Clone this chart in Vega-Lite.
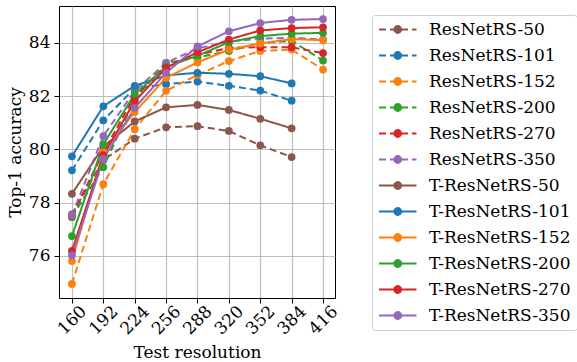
{
  "$schema": "https://vega.github.io/schema/vega-lite/v6.json",
  "autosize": "none",
  "width": 276,
  "height": 292,
  "padding": {"left": 59, "top": 6, "right": 242, "bottom": 64},
  "config": {
    "font": "DejaVu Serif",
    "view": {"stroke": "black", "strokeWidth": 1},
    "axis": {
      "labelFont": "DejaVu Serif", "labelFontSize": 17, "labelColor": "black",
      "titleFont": "DejaVu Serif", "titleFontSize": 17, "titleColor": "black", "titleFontWeight": "normal",
      "domain": false, "tickColor": "black", "tickSize": 5, "tickWidth": 1,
      "gridColor": "#b0b0b0", "gridWidth": 1.2, "gridOpacity": 0.8, "labelOverlap": false
    }
  },
  "data": {"values": [
    {"m": "ResNetRS-50", "r": 160, "a": 77.55}, {"m": "ResNetRS-50", "r": 192, "a": 79.6}, {"m": "ResNetRS-50", "r": 224, "a": 80.4}, {"m": "ResNetRS-50", "r": 256, "a": 80.83}, {"m": "ResNetRS-50", "r": 288, "a": 80.87}, {"m": "ResNetRS-50", "r": 320, "a": 80.69}, {"m": "ResNetRS-50", "r": 352, "a": 80.15}, {"m": "ResNetRS-50", "r": 384, "a": 79.71},
    {"m": "ResNetRS-101", "r": 160, "a": 79.21}, {"m": "ResNetRS-101", "r": 192, "a": 81.09}, {"m": "ResNetRS-101", "r": 224, "a": 82.3}, {"m": "ResNetRS-101", "r": 256, "a": 82.45}, {"m": "ResNetRS-101", "r": 288, "a": 82.55}, {"m": "ResNetRS-101", "r": 320, "a": 82.39}, {"m": "ResNetRS-101", "r": 352, "a": 82.21}, {"m": "ResNetRS-101", "r": 384, "a": 81.83},
    {"m": "ResNetRS-152", "r": 160, "a": 74.94}, {"m": "ResNetRS-152", "r": 192, "a": 78.69}, {"m": "ResNetRS-152", "r": 224, "a": 80.76}, {"m": "ResNetRS-152", "r": 256, "a": 82.2}, {"m": "ResNetRS-152", "r": 288, "a": 82.8}, {"m": "ResNetRS-152", "r": 320, "a": 83.32}, {"m": "ResNetRS-152", "r": 352, "a": 83.7}, {"m": "ResNetRS-152", "r": 384, "a": 83.75}, {"m": "ResNetRS-152", "r": 416, "a": 83.0},
    {"m": "ResNetRS-200", "r": 160, "a": 77.45}, {"m": "ResNetRS-200", "r": 192, "a": 79.33}, {"m": "ResNetRS-200", "r": 224, "a": 81.9}, {"m": "ResNetRS-200", "r": 256, "a": 83.25}, {"m": "ResNetRS-200", "r": 288, "a": 83.45}, {"m": "ResNetRS-200", "r": 320, "a": 83.7}, {"m": "ResNetRS-200", "r": 352, "a": 84.0}, {"m": "ResNetRS-200", "r": 384, "a": 84.08}, {"m": "ResNetRS-200", "r": 416, "a": 83.34},
    {"m": "ResNetRS-270", "r": 160, "a": 77.5}, {"m": "ResNetRS-270", "r": 192, "a": 79.9}, {"m": "ResNetRS-270", "r": 224, "a": 82.0}, {"m": "ResNetRS-270", "r": 256, "a": 83.15}, {"m": "ResNetRS-270", "r": 288, "a": 83.55}, {"m": "ResNetRS-270", "r": 320, "a": 83.82}, {"m": "ResNetRS-270", "r": 352, "a": 83.84}, {"m": "ResNetRS-270", "r": 384, "a": 83.84}, {"m": "ResNetRS-270", "r": 416, "a": 83.62},
    {"m": "ResNetRS-350", "r": 160, "a": 77.52}, {"m": "ResNetRS-350", "r": 192, "a": 80.5}, {"m": "ResNetRS-350", "r": 224, "a": 82.2}, {"m": "ResNetRS-350", "r": 256, "a": 83.25}, {"m": "ResNetRS-350", "r": 288, "a": 83.8}, {"m": "ResNetRS-350", "r": 320, "a": 84.05}, {"m": "ResNetRS-350", "r": 352, "a": 84.16}, {"m": "ResNetRS-350", "r": 384, "a": 84.2}, {"m": "ResNetRS-350", "r": 416, "a": 84.13},
    {"m": "T-ResNetRS-50", "r": 160, "a": 78.33}, {"m": "T-ResNetRS-50", "r": 192, "a": 80.1}, {"m": "T-ResNetRS-50", "r": 224, "a": 81.05}, {"m": "T-ResNetRS-50", "r": 256, "a": 81.58}, {"m": "T-ResNetRS-50", "r": 288, "a": 81.67}, {"m": "T-ResNetRS-50", "r": 320, "a": 81.48}, {"m": "T-ResNetRS-50", "r": 352, "a": 81.15}, {"m": "T-ResNetRS-50", "r": 384, "a": 80.79},
    {"m": "T-ResNetRS-101", "r": 160, "a": 79.74}, {"m": "T-ResNetRS-101", "r": 192, "a": 81.62}, {"m": "T-ResNetRS-101", "r": 224, "a": 82.39}, {"m": "T-ResNetRS-101", "r": 256, "a": 82.78}, {"m": "T-ResNetRS-101", "r": 288, "a": 82.88}, {"m": "T-ResNetRS-101", "r": 320, "a": 82.84}, {"m": "T-ResNetRS-101", "r": 352, "a": 82.75}, {"m": "T-ResNetRS-101", "r": 384, "a": 82.48},
    {"m": "T-ResNetRS-152", "r": 160, "a": 75.8}, {"m": "T-ResNetRS-152", "r": 192, "a": 79.9}, {"m": "T-ResNetRS-152", "r": 224, "a": 81.4}, {"m": "T-ResNetRS-152", "r": 256, "a": 82.69}, {"m": "T-ResNetRS-152", "r": 288, "a": 83.27}, {"m": "T-ResNetRS-152", "r": 320, "a": 83.75}, {"m": "T-ResNetRS-152", "r": 352, "a": 83.98}, {"m": "T-ResNetRS-152", "r": 384, "a": 84.15}, {"m": "T-ResNetRS-152", "r": 416, "a": 84.1},
    {"m": "T-ResNetRS-200", "r": 160, "a": 76.74}, {"m": "T-ResNetRS-200", "r": 192, "a": 80.19}, {"m": "T-ResNetRS-200", "r": 224, "a": 82.08}, {"m": "T-ResNetRS-200", "r": 256, "a": 83.1}, {"m": "T-ResNetRS-200", "r": 288, "a": 83.52}, {"m": "T-ResNetRS-200", "r": 320, "a": 84.03}, {"m": "T-ResNetRS-200", "r": 352, "a": 84.26}, {"m": "T-ResNetRS-200", "r": 384, "a": 84.35}, {"m": "T-ResNetRS-200", "r": 416, "a": 84.38},
    {"m": "T-ResNetRS-270", "r": 160, "a": 76.18}, {"m": "T-ResNetRS-270", "r": 192, "a": 79.78}, {"m": "T-ResNetRS-270", "r": 224, "a": 81.81}, {"m": "T-ResNetRS-270", "r": 256, "a": 83.06}, {"m": "T-ResNetRS-270", "r": 288, "a": 83.65}, {"m": "T-ResNetRS-270", "r": 320, "a": 84.13}, {"m": "T-ResNetRS-270", "r": 352, "a": 84.47}, {"m": "T-ResNetRS-270", "r": 384, "a": 84.56}, {"m": "T-ResNetRS-270", "r": 416, "a": 84.59},
    {"m": "T-ResNetRS-350", "r": 160, "a": 76.02}, {"m": "T-ResNetRS-350", "r": 192, "a": 79.64}, {"m": "T-ResNetRS-350", "r": 224, "a": 81.56}, {"m": "T-ResNetRS-350", "r": 256, "a": 82.88}, {"m": "T-ResNetRS-350", "r": 288, "a": 83.87}, {"m": "T-ResNetRS-350", "r": 320, "a": 84.44}, {"m": "T-ResNetRS-350", "r": 352, "a": 84.75}, {"m": "T-ResNetRS-350", "r": 384, "a": 84.87}, {"m": "T-ResNetRS-350", "r": 416, "a": 84.9}
  ]},
  "mark": {"type": "line", "strokeWidth": 2, "point": {"filled": true, "size": 60, "opacity": 1}},
  "encoding": {
    "x": {"field": "r", "type": "quantitative", "scale": {"domain": [146.8, 428.2], "nice": false, "zero": false},
      "axis": {"values": [160, 192, 224, 256, 288, 320, 352, 384, 416], "title": "Test resolution", "labelAngle": -45, "labelAlign": "center", "labelBaseline": "middle", "labelPadding": 17, "titleY": 54, "titleBaseline": "middle"}},
    "y": {"field": "a", "type": "quantitative", "scale": {"domain": [74.41, 85.39], "nice": false, "zero": false},
      "axis": {"values": [76, 78, 80, 82, 84], "title": "Top-1 accuracy", "labelPadding": 4, "titleX": -44, "titleBaseline": "middle"}},
    "color": {"field": "m", "type": "nominal",
      "scale": {"domain": ["ResNetRS-50", "ResNetRS-101", "ResNetRS-152", "ResNetRS-200", "ResNetRS-270", "ResNetRS-350", "T-ResNetRS-50", "T-ResNetRS-101", "T-ResNetRS-152", "T-ResNetRS-200", "T-ResNetRS-270", "T-ResNetRS-350"],
        "range": ["#8c564b", "#1f77b4", "#ff7f0e", "#2ca02c", "#d62728", "#9467bd", "#8c564b", "#1f77b4", "#ff7f0e", "#2ca02c", "#d62728", "#9467bd"]},
      "legend": {"title": null, "orient": "none", "legendX": 313, "legendY": 9,
        "symbolType": "M-1,0H4M1.953,0C1.953,0.2502,1.7502,0.453,1.5,0.453M1.5,0.453C1.2498,0.453,1.047,0.2502,1.047,0M1.047,0C1.047,-0.2502,1.2498,-0.453,1.5,-0.453M1.5,-0.453C1.7502,-0.453,1.953,-0.2502,1.953,0M1.687,0C1.687,0.1033,1.6033,0.187,1.5,0.187C1.3967,0.187,1.313,0.1033,1.313,0M1.313,0C1.313,-0.1033,1.3967,-0.187,1.5,-0.187C1.6033,-0.187,1.687,-0.1033,1.687,0",
        "symbolSize": 225, "symbolStrokeWidth": 2, "labelOffset": 34,
        "labelFont": "DejaVu Serif", "labelFontSize": 17, "labelColor": "black", "labelLimit": 300,
        "rowPadding": 8, "padding": 6, "strokeColor": "#cccccc", "fillColor": "white", "cornerRadius": 3,
        "encode": {"symbols": {"update": {"fill": {"value": "transparent"}}}}}},
    "strokeDash": {"field": "m", "type": "nominal",
      "scale": {"domain": ["ResNetRS-50", "ResNetRS-101", "ResNetRS-152", "ResNetRS-200", "ResNetRS-270", "ResNetRS-350", "T-ResNetRS-50", "T-ResNetRS-101", "T-ResNetRS-152", "T-ResNetRS-200", "T-ResNetRS-270", "T-ResNetRS-350"],
        "range": [[7, 4], [7, 4], [7, 4], [7, 4], [7, 4], [7, 4], [1, 0], [1, 0], [1, 0], [1, 0], [1, 0], [1, 0]]},
      "legend": {"title": null, "orient": "none", "legendX": 313, "legendY": 9,
        "symbolType": "M-1,0H4M1.953,0C1.953,0.2502,1.7502,0.453,1.5,0.453M1.5,0.453C1.2498,0.453,1.047,0.2502,1.047,0M1.047,0C1.047,-0.2502,1.2498,-0.453,1.5,-0.453M1.5,-0.453C1.7502,-0.453,1.953,-0.2502,1.953,0M1.687,0C1.687,0.1033,1.6033,0.187,1.5,0.187C1.3967,0.187,1.313,0.1033,1.313,0M1.313,0C1.313,-0.1033,1.3967,-0.187,1.5,-0.187C1.6033,-0.187,1.687,-0.1033,1.687,0",
        "symbolSize": 225, "symbolStrokeWidth": 2, "labelOffset": 34,
        "labelFont": "DejaVu Serif", "labelFontSize": 17, "labelColor": "black", "labelLimit": 300,
        "rowPadding": 8, "padding": 6, "strokeColor": "#cccccc", "fillColor": "white", "cornerRadius": 3}}
  }
}
